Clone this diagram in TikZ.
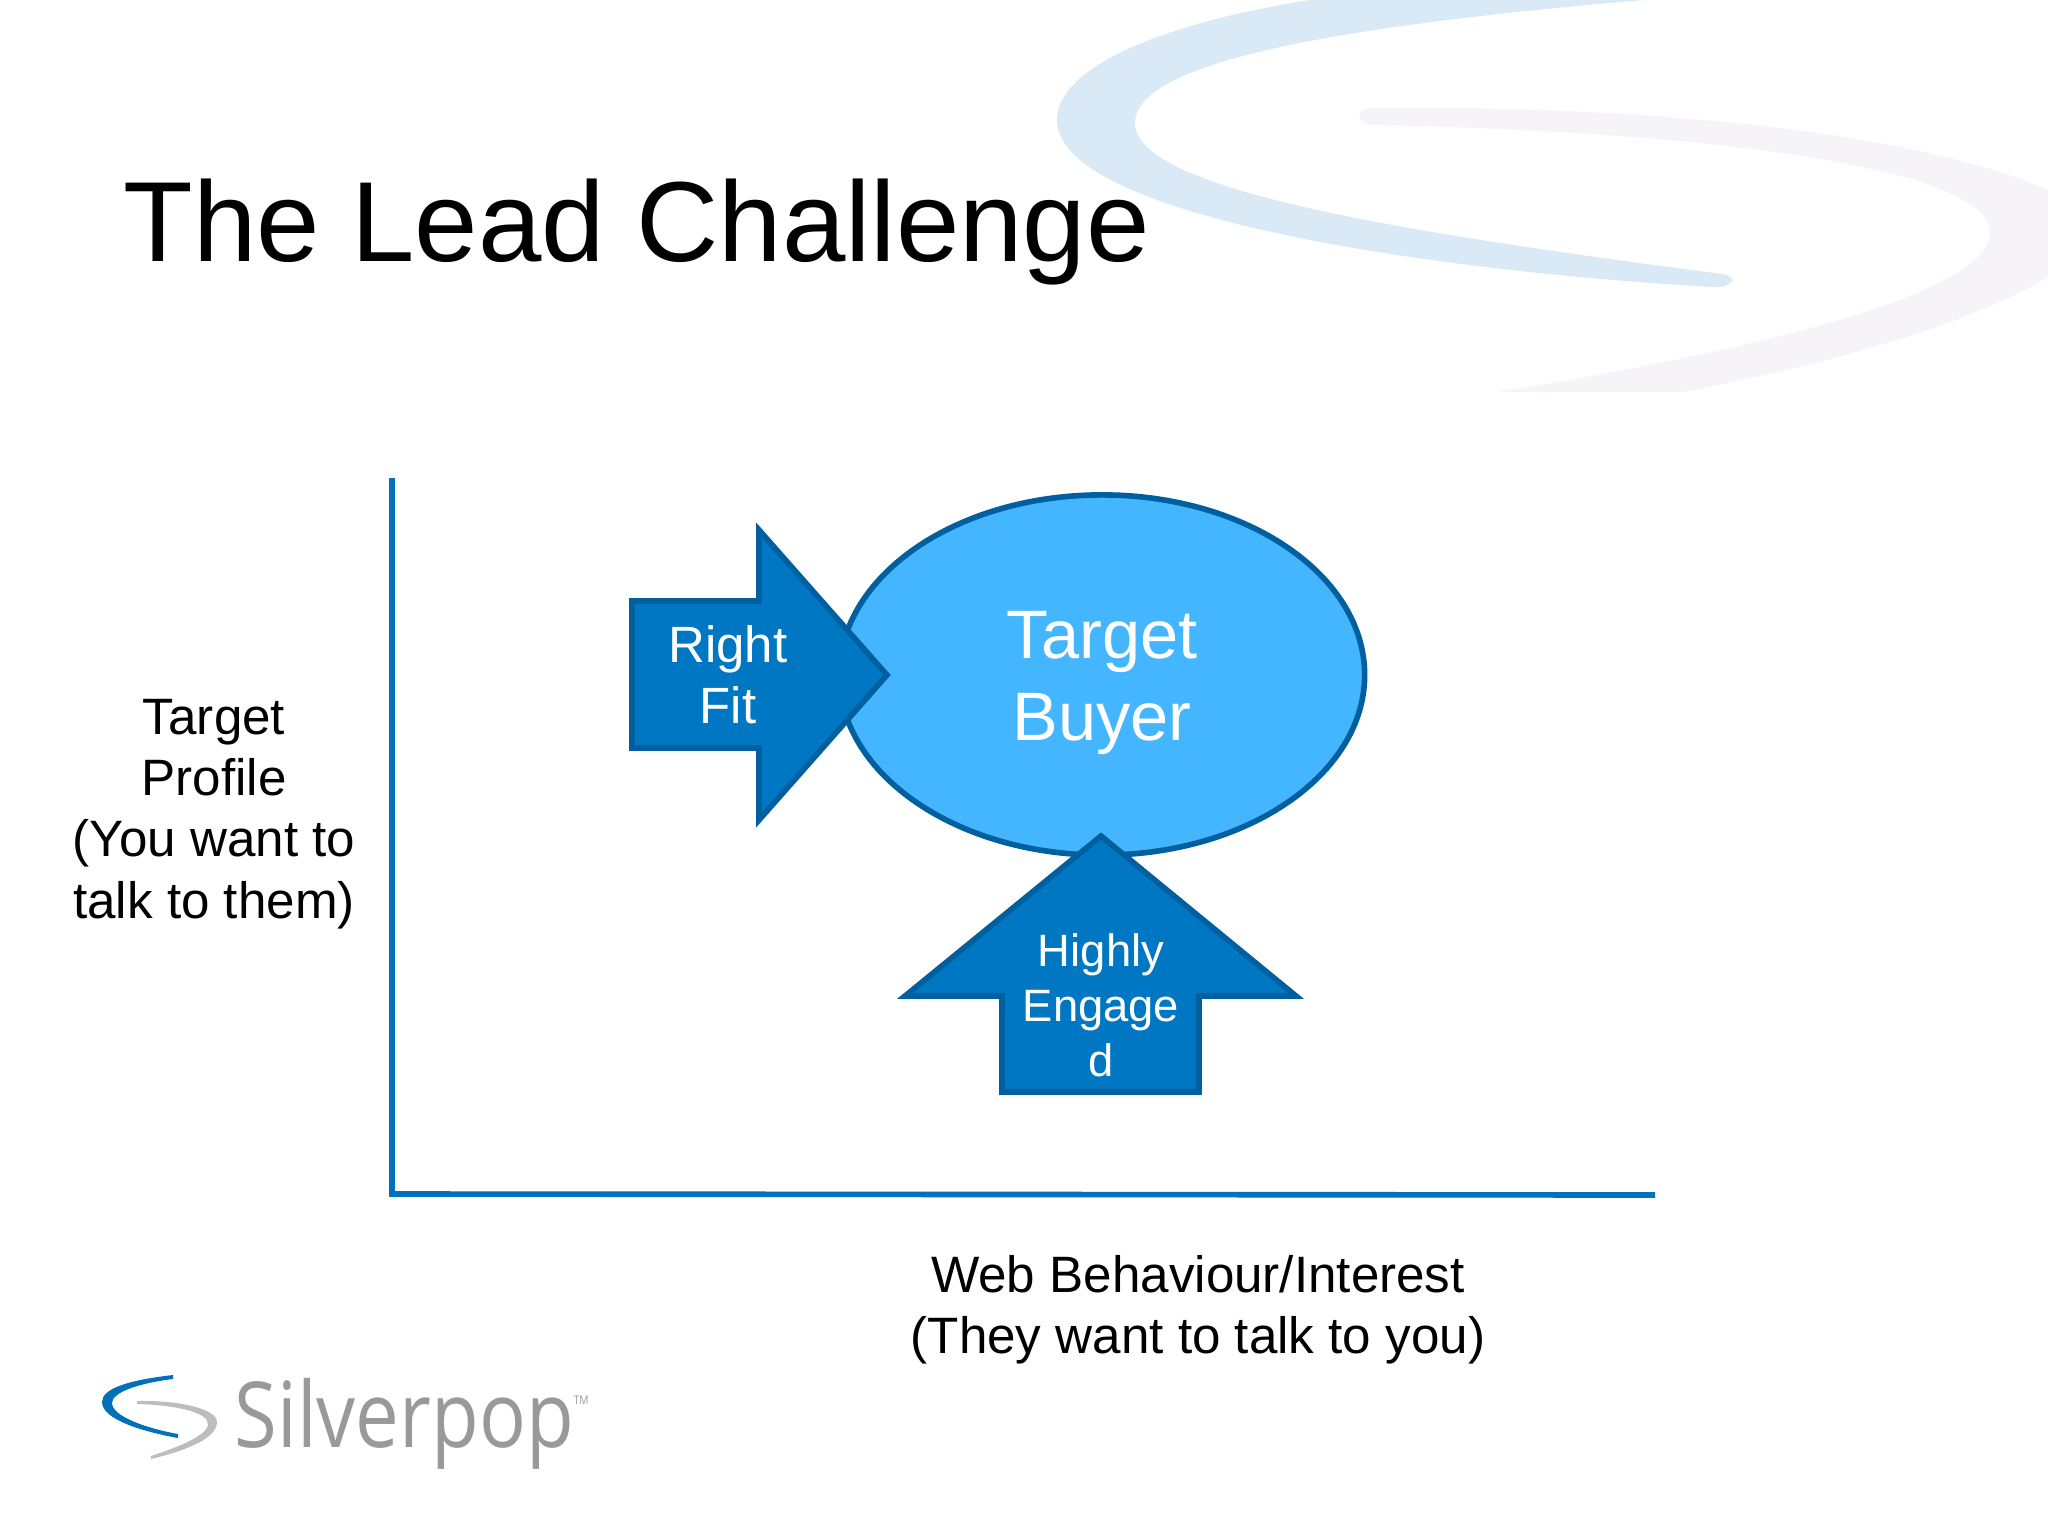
\documentclass[tikz,border=0pt]{standalone}
\usepackage{fontspec}
\usepackage{xcolor}
\usetikzlibrary{shapes.geometric}
\setmainfont{Liberation Sans}
\newfontfamily\logofont[FakeStretch=0.855]{Open Sans}

\definecolor{axisBlue}{HTML}{0070C0}
\definecolor{arrowBlue}{HTML}{0077C2}
\definecolor{edgeBlue}{HTML}{005F9E}
\definecolor{buyerBlue}{HTML}{44B5FF}
\definecolor{swooshBlue}{HTML}{D9E9F6}
\definecolor{swooshGrey}{HTML}{F6F4F8}
\definecolor{logoBlue}{HTML}{0070BA}
\definecolor{logoGrey}{HTML}{BDBDBD}
\definecolor{logoText}{HTML}{999999}

\tikzset{
    axisline/.style={draw=axisBlue, line width=1.6pt},
    blockarrow/.style={draw=edgeBlue, fill=arrowBlue, line width=1.6pt, miter limit=10},
    bodytext/.style={inner sep=0pt, align=center, font=\fontsize{14.55}{17.4}\selectfont},
    arrowtext/.style={inner sep=0pt, align=center, text=white}
}

\begin{document}
\begin{tikzpicture}[x=0.01cm, y=-0.01cm]
    \useasboundingbox (0,0) rectangle (2048,1536);
    
    %%% background swoosh %%%
    \begin{scope}
    \clip (0,0) rectangle (2048,392);
    \fill[swooshBlue] (1310,0) .. controls (1170,22) and (1057,65) .. (1057,120) .. controls (1057,215) and (1420,270) .. (1712,287) .. controls (1735,288) and (1738,276) .. (1722,274) .. controls (1400,232) and (1135,190) .. (1135,123) .. controls (1135,60) and (1350,25) .. (1644,0) -- cycle;
    \fill[swooshGrey] (1372,108) .. controls (1600,105) and (1900,125) .. (2048,190) -- (2048,277) .. controls (1960,330) and (1800,370) .. (1683,392) -- (1496,392) .. controls (1700,360) and (1990,300) .. (1990,233) .. controls (1990,160) and (1650,130) .. (1372,125) .. controls (1355,124) and (1355,109) .. (1372,108) -- cycle;
    \end{scope}
    
    %title
    \node[anchor=base west, inner sep=0pt, font=\fontsize{32.4}{38}\selectfont] (title) at (123,261) {The Lead Challenge};
    
    %%% axes %%%
    \coordinate (axisTop) at (392,478);
    \coordinate (axisCorner) at (392,1194);
    \coordinate (axisEnd) at (1655,1195);
    \draw[axisline] (axisTop) -- (axisCorner) -- (axisEnd);
    
    % axis labels
    \node[bodytext] (profileLabel) at (214,814) {Target\\Profile\\(You want to\\talk to them)};
    \node[bodytext] (behaviourLabel) at (1198,1310) {Web Behaviour/Interest\\(They want to talk to you)};
    
    %%% ellipse and block arrows %%%
    \node[draw=edgeBlue, fill=buyerBlue, line width=1.6pt, shape=ellipse, minimum width=5.25cm, minimum height=3.6cm, inner sep=0pt] (buyerShape) at (1102,675) {};
    \node[arrowtext, font=\fontsize{19.5}{23.2}\selectfont] (buyerLabel) at (1102,683) {Target\\Buyer};
    
    % right fit
    \draw[blockarrow] (632,601) -- (759,601) -- (759,530) -- (887,675) -- (759,820) -- (759,748) -- (632,748) -- cycle;
    \node[arrowtext, font=\fontsize{14.5}{17.4}\selectfont] (fitLabel) at (728,675) {Right\\Fit};
    
    % highly engaged
    \draw[blockarrow] (1101,836) -- (1296,996) -- (1199,996) -- (1199,1092) -- (1002,1092) -- (1002,996) -- (905,996) -- cycle;
    \node[arrowtext, font=\fontsize{12.9}{15.6}\selectfont] (engagedLabel) at (1101,1005) {Highly\\Engage\\d};
    
    %%% logo %%%
    \fill[logoBlue] (173,1375) .. controls (130,1380) and (102,1388) .. (102,1402) .. controls (102,1420) and (145,1432) .. (178,1438) -- (178,1434) .. controls (145,1428) and (112,1416) .. (112,1403) .. controls (112,1392) and (140,1383) .. (173,1379) -- cycle;
    \fill[logoGrey] (137,1401) .. controls (175,1400) and (217,1408) .. (217,1422) .. controls (217,1440) and (180,1452) .. (151,1459) -- (151,1456) .. controls (175,1448) and (208,1436) .. (208,1424) .. controls (208,1412) and (175,1405) .. (137,1404) -- cycle;
    \node[anchor=base west, inner sep=0pt, text=logoText, font=\logofont\fontsize{25.9}{30}\selectfont] (logoLabel) at (234,1447) {Silverpop\raisebox{0.42cm}{\fontsize{3.4}{4}\selectfont TM}};
\end{tikzpicture}
\end{document}
